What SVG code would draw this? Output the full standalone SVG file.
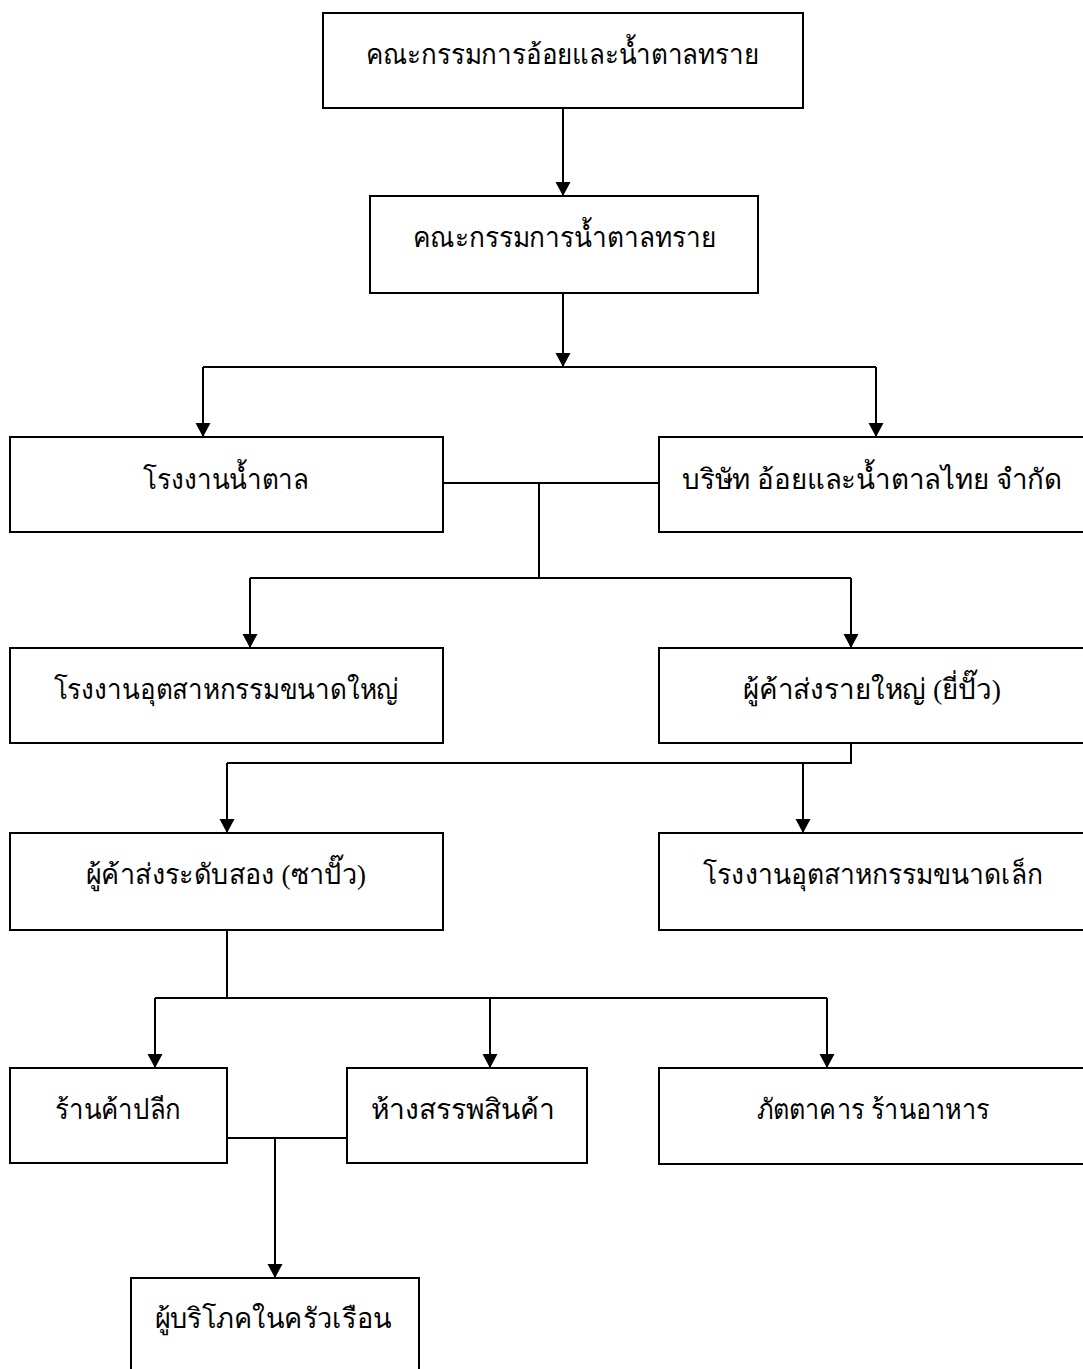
<svg xmlns="http://www.w3.org/2000/svg" width="1083" height="1369" viewBox="0 0 1083 1369">
<style>
.box{fill:#fff;stroke:#000;stroke-width:2}
.t{font-family:"Liberation Serif",serif;font-size:28px;fill:#000;text-anchor:middle}
.c{fill:none;stroke:#000;stroke-width:2}
.ah{fill:#000}
</style>
<rect width="1083" height="1369" fill="#fff"/>
<g id="connectors">
<line class="c" x1="563" y1="108" x2="563" y2="196"/>
<path class="c" d="M563,293 V367"/>
<path class="c" d="M203,367 H876"/>
<path class="c" d="M203,367 V437"/>
<path class="c" d="M876,367 V437"/>
<path class="c" d="M443,483 H659"/>
<path class="c" d="M539,483 V578"/>
<path class="c" d="M250,578 H851"/>
<path class="c" d="M250,578 V648"/>
<path class="c" d="M851,578 V648"/>
<path class="c" d="M851,743 V763 H227"/>
<path class="c" d="M227,763 V833"/>
<path class="c" d="M803,763 V833"/>
<path class="c" d="M227,927 V998"/>
<path class="c" d="M155,998 H827"/>
<path class="c" d="M155,998 V1068"/>
<path class="c" d="M490,998 V1068"/>
<path class="c" d="M827,998 V1068"/>
<path class="c" d="M227,1138 H347"/>
<path class="c" d="M275,1138 V1278"/>
<path class="ah" d="M555.5,182 L570.5,182 L563,196 Z"/>
<path class="ah" d="M555.5,353 L570.5,353 L563,367 Z"/>
<path class="ah" d="M195.5,423 L210.5,423 L203,437 Z"/>
<path class="ah" d="M868.5,423 L883.5,423 L876,437 Z"/>
<path class="ah" d="M242.5,634 L257.5,634 L250,648 Z"/>
<path class="ah" d="M843.5,634 L858.5,634 L851,648 Z"/>
<path class="ah" d="M219.5,819 L234.5,819 L227,833 Z"/>
<path class="ah" d="M795.5,819 L810.5,819 L803,833 Z"/>
<path class="ah" d="M147.5,1054 L162.5,1054 L155,1068 Z"/>
<path class="ah" d="M482.5,1054 L497.5,1054 L490,1068 Z"/>
<path class="ah" d="M819.5,1054 L834.5,1054 L827,1068 Z"/>
<path class="ah" d="M267.5,1264 L282.5,1264 L275,1278 Z"/>
</g>
<g id="n1"><rect class="box" x="323" y="13" width="480" height="95"/><text class="t" x="562" y="64" textLength="393" lengthAdjust="spacingAndGlyphs">คณะกรรมการอ้อยและน้ำตาลทราย</text></g>
<g id="n2"><rect class="box" x="370" y="196" width="388" height="97"/><text class="t" x="564" y="247" textLength="303" lengthAdjust="spacingAndGlyphs">คณะกรรมการน้ำตาลทราย</text></g>
<g id="n3"><rect class="box" x="10" y="437" width="433" height="95"/><text class="t" x="226" y="489" textLength="166" lengthAdjust="spacingAndGlyphs">โรงงานน้ำตาล</text></g>
<g id="n4"><rect class="box" x="659" y="437" width="426" height="95"/><text class="t" x="872" y="489" textLength="380" lengthAdjust="spacingAndGlyphs">บริษัท อ้อยและน้ำตาลไทย จำกัด</text></g>
<g id="n5"><rect class="box" x="10" y="648" width="433" height="95"/><text class="t" x="226" y="699" textLength="345" lengthAdjust="spacingAndGlyphs">โรงงานอุตสาหกรรมขนาดใหญ่</text></g>
<g id="n6"><rect class="box" x="659" y="648" width="426" height="95"/><text class="t" x="872" y="699" textLength="258" lengthAdjust="spacingAndGlyphs">ผู้ค้าส่งรายใหญ่ (ยี่ปั๊ว)</text></g>
<g id="n7"><rect class="box" x="10" y="833" width="433" height="97"/><text class="t" x="226" y="884" textLength="280" lengthAdjust="spacingAndGlyphs">ผู้ค้าส่งระดับสอง (ซาปั๊ว)</text></g>
<g id="n8"><rect class="box" x="659" y="833" width="426" height="97"/><text class="t" x="873" y="884" textLength="340" lengthAdjust="spacingAndGlyphs">โรงงานอุตสาหกรรมขนาดเล็ก</text></g>
<g id="n9"><rect class="box" x="10" y="1068" width="217" height="95"/><text class="t" x="118" y="1119" textLength="126" lengthAdjust="spacingAndGlyphs">ร้านค้าปลีก</text></g>
<g id="n10"><rect class="box" x="347" y="1068" width="240" height="95"/><text class="t" x="463" y="1119" textLength="185" lengthAdjust="spacingAndGlyphs">ห้างสรรพสินค้า</text></g>
<g id="n11"><rect class="box" x="659" y="1068" width="426" height="96"/><text class="t" x="873" y="1119" textLength="233" lengthAdjust="spacingAndGlyphs">ภัตตาคาร ร้านอาหาร</text></g>
<g id="n12"><rect class="box" x="131" y="1278" width="288" height="120"/><text class="t" x="273" y="1328" textLength="237" lengthAdjust="spacingAndGlyphs">ผู้บริโภคในครัวเรือน</text></g>
</svg>
